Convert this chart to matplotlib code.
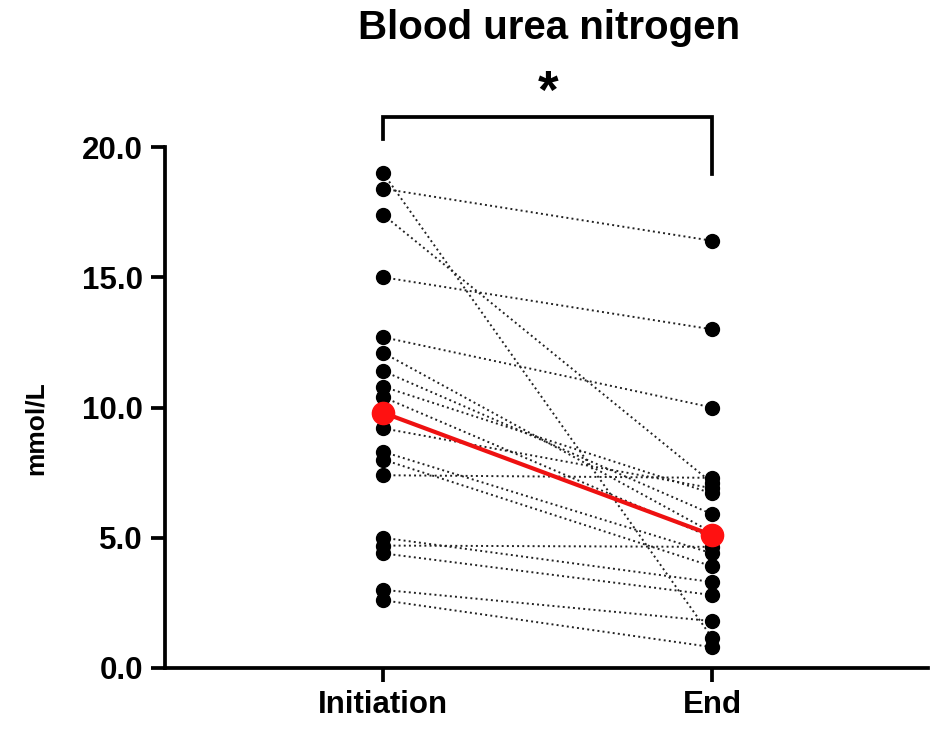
import numpy as np
import matplotlib
matplotlib.use('Agg')
import matplotlib.pyplot as plt

plt.rcParams['font.family'] = ['Liberation Sans', 'DejaVu Sans']
plt.rcParams['font.weight'] = 'bold'

### paired values (mmol/L)
groups = ['Initiation', 'End']
initiation = [19.0, 18.4, 17.4, 15.0, 12.7, 12.1, 11.4, 10.8, 10.4,
              9.2, 8.3, 8.0, 7.4, 5.0, 4.7, 4.4, 3.0, 2.6]
end = [1.15, 16.4, 7.1, 13.0, 10.0, 5.2, 5.9, 6.7, 5.0,
       6.9, 4.4, 3.9, 7.3, 3.3, 4.65, 2.8, 1.8, 0.8]
y_ticks = [0, 5, 10, 15, 20]
y_tick_labels = ['0.0', '5.0', '10.0', '15.0', '20.0']
title = 'Blood urea nitrogen'
sig_label = '*'

med = [np.median(initiation), np.median(end)]

fig = plt.figure(figsize=(9.3, 7.29), dpi=100)
ax = fig.add_axes([0.1774, 0.0837, 0.8206, 0.7146])

x = np.arange(len(groups))
for a, b in zip(initiation, end):
    ax.plot(x, [a, b], color='#222222', linestyle=':', linewidth=1.4,
            zorder=2)
ax.plot(np.zeros(len(initiation)), initiation, 'o', color='black',
        markersize=10, zorder=3)
ax.plot(np.ones(len(end)), end, 'o', color='black', markersize=10,
        zorder=3)

# medians
ax.plot(x, med, color='#ee1111', linewidth=3, zorder=4)
ax.plot(x, med, 'o', color='#ff1111', markersize=16, zorder=5)

ax.set_xlim(-0.663, 1.656)
ax.set_ylim(0, 20)
ax.set_xticks(x)
ax.set_xticklabels(groups, fontsize=22.5, fontweight='bold')
ax.set_yticks(y_ticks)
ax.set_yticklabels(y_tick_labels, fontsize=22.5, fontweight='bold')

for s in ['top', 'right']:
    ax.spines[s].set_visible(False)
for s in ['left', 'bottom']:
    ax.spines[s].set_linewidth(2.7)
ax.tick_params(axis='both', width=2.7, length=10, pad=6)

# significance bracket
ax.plot([0, 0, 1, 1], [20.3, 21.15, 21.15, 18.95], color='black',
        linewidth=2.7, clip_on=False, solid_joinstyle='miter')
ax.text(0.5, 22.05, sig_label, ha='center', va='center', fontsize=38,
        fontweight='bold')

fig.text(549 / 930, 1 - 28 / 729, title, ha='center', va='center',
         fontsize=29, fontweight='bold')
fig.text(36 / 930, 1 - 428 / 729, 'mmol/L', ha='center', va='center',
         rotation=90, fontsize=19, fontweight='bold')

fig.savefig('out.png', dpi=100)
